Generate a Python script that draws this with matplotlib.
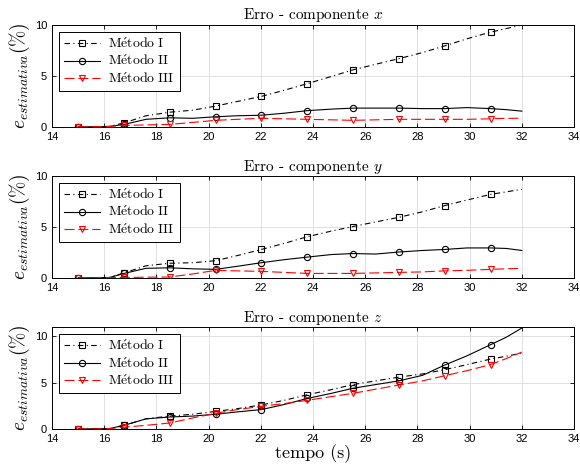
import matplotlib
matplotlib.use("Agg")
import matplotlib.pyplot as plt

# time grid of the curves (markers at the even indices)
t = [15, 16.2, 16.76, 17.6, 18.51, 19.4, 20.27, 21.1, 22.02, 22.9, 23.78,
     24.7, 25.53, 26.4, 27.29, 28.2, 29.04, 29.9, 30.80, 31.4, 32]
marks = list(range(0, 19, 2))

# componente x
x_m1 = [0, 0.05, 0.4, 1.1, 1.45, 1.65, 2.05, 2.5, 3.0, 3.6, 4.25,
        4.95, 5.6, 6.15, 6.7, 7.3, 7.95, 8.65, 9.3, 9.65, 10.0]
x_m2 = [0, 0.05, 0.25, 0.75, 0.9, 0.85, 1.0, 1.1, 1.15, 1.35, 1.6,
        1.75, 1.85, 1.85, 1.85, 1.8, 1.8, 1.9, 1.8, 1.7, 1.55]
x_m3 = [0, 0.05, 0.15, 0.2, 0.25, 0.45, 0.65, 0.75, 0.85, 0.8, 0.75,
        0.7, 0.65, 0.7, 0.75, 0.75, 0.75, 0.75, 0.8, 0.85, 0.85]

# componente y
y_m1 = [0, 0.05, 0.5, 1.2, 1.45, 1.5, 1.7, 2.2, 2.8, 3.4, 4.05,
        4.6, 5.05, 5.5, 5.95, 6.5, 7.1, 7.65, 8.2, 8.45, 8.7]
y_m2 = [0, 0.05, 0.45, 0.95, 1.0, 0.9, 0.85, 1.15, 1.5, 1.8, 2.05,
        2.3, 2.4, 2.35, 2.55, 2.7, 2.8, 2.95, 2.95, 2.9, 2.7]
y_m3 = [0, 0.05, 0.05, 0.08, 0.1, 0.4, 0.75, 0.7, 0.65, 0.55, 0.45,
        0.45, 0.45, 0.5, 0.55, 0.6, 0.7, 0.75, 0.85, 0.9, 0.95]

# componente z
z_m1 = [0, 0.05, 0.4, 1.1, 1.4, 1.6, 1.9, 2.2, 2.6, 3.1, 3.7,
        4.25, 4.8, 5.2, 5.6, 5.95, 6.4, 6.95, 7.55, 7.85, 8.2]
z_m2 = [0, 0.05, 0.4, 1.1, 1.3, 1.4, 1.6, 1.85, 2.1, 2.65, 3.3,
        3.85, 4.4, 4.8, 5.2, 5.8, 6.9, 7.9, 9.1, 9.9, 10.9]
z_m3 = [0, 0.05, 0.2, 0.4, 0.65, 1.2, 1.7, 2.1, 2.45, 2.75, 3.1,
        3.5, 3.85, 4.3, 4.75, 5.2, 5.75, 6.3, 6.95, 7.6, 8.3]

components = ['x', 'y', 'z']
data = [(x_m1, x_m2, x_m3), (y_m1, y_m2, y_m3), (z_m1, z_m2, z_m3)]
ylims = [(0, 10), (0, 10), (0, 11)]
labels = [r"$\mathrm{M\'{e}todo\ I}$", r"$\mathrm{M\'{e}todo\ II}$",
          r"$\mathrm{M\'{e}todo\ III}$"]

plt.rcParams['mathtext.fontset'] = 'cm'
plt.rcParams['font.family'] = ['Liberation Sans', 'DejaVu Sans']
plt.rcParams['axes.formatter.use_mathtext'] = False

fig = plt.figure(figsize=(5.8, 4.72), dpi=100)
bottoms = [0.731, 0.411, 0.091]

for i in range(3):
    ax = fig.add_axes([0.0897, bottoms[i], 0.9, 0.216])
    m1, m2, m3 = data[i]
    ax.plot(t, m1, color='k', ls=(0, (5, 3, 1, 3)), lw=0.8, marker='s',
            ms=4.5, mfc='none', mew=0.8, markevery=marks, label=labels[0])
    ax.plot(t, m2, color='k', ls='-', lw=0.8, marker='o', ms=4.5,
            mfc='none', mew=0.8, markevery=marks, label=labels[1])
    ax.plot(t, m3, color='r', ls=(0, (9, 3.5)), lw=0.8, marker='v', ms=5,
            mfc='none', mew=0.8, markevery=marks, label=labels[2])
    ax.set_xlim(14, 34)
    ax.set_ylim(*ylims[i])
    ax.set_xticks(range(14, 35, 2))
    ax.set_yticks([0, 5, 10])
    ax.grid(True, color='#e0e0e0', lw=0.7)
    ax.set_axisbelow(True)
    ax.tick_params(direction='in', top=True, right=True, labelsize=8,
                   length=3, width=0.6)
    for s in ax.spines.values():
        s.set_linewidth(0.7)
    ax.set_title('Erro - componente $%s$' % components[i], family='cmr10',
                 fontsize=11, pad=4)
    ax.set_ylabel(r'$e_{estimativa}(\%)$', fontsize=14, labelpad=2)
    leg = ax.legend(loc='upper left', fontsize=10, fancybox=False,
                    edgecolor='k', framealpha=1, borderpad=0.35,
                    labelspacing=0.22, handlelength=2.6, handletextpad=0.6,
                    borderaxespad=0.5)
    leg.get_frame().set_linewidth(0.7)
    if i == 2:
        ax.set_xlabel('tempo (s)', family='cmr10', fontsize=13, labelpad=0)

fig.savefig('out.png', dpi=100)
